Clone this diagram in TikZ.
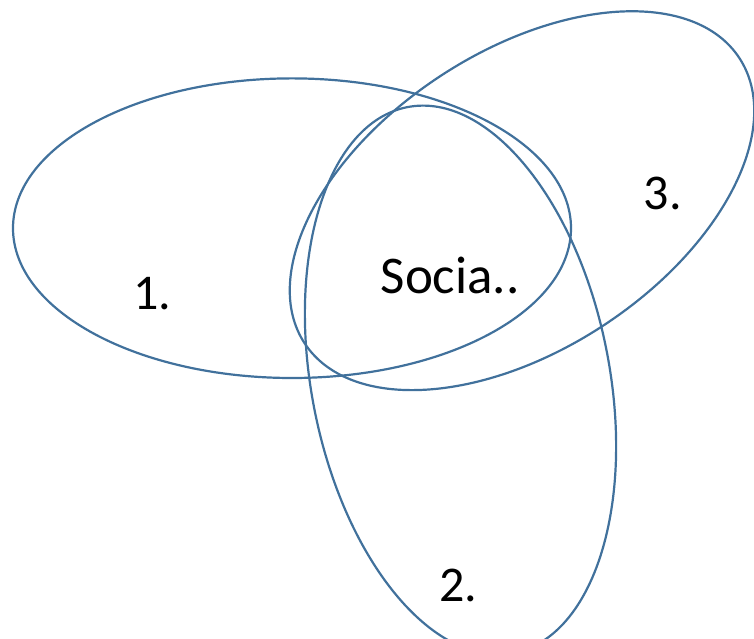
\documentclass[tikz,border=0pt]{standalone}
\usepackage{fontspec}
\setmainfont{Carlito}
\definecolor{ellblue}{RGB}{65,113,156}
\begin{document}
\begin{tikzpicture}[x=1pt,y=1pt,
  venn/.style={draw=ellblue,line width=2.2pt},
  lbl/.style={anchor=base west,inner sep=0pt,font=\fontsize{50}{54}\selectfont},
  biglbl/.style={anchor=base west,inner sep=0pt,font=\fontsize{53}{57}\selectfont}]
\useasboundingbox (0,0) rectangle (754,639);
\draw[venn] (292,410.8) ellipse [x radius=279, y radius=149.8];
\draw[venn,shift={(460.5,259)},rotate=11] (0,0) ellipse [x radius=149, y radius=278];
\draw[venn,shift={(522,438.3)},rotate=33.3] (0,0) ellipse [x radius=260, y radius=149];
\node[lbl] (one) at (133,329) {1.};
\node[biglbl] (soc) at (380.5,345) {Socia..};
\node[lbl] (three) at (643.5,429) {3.};
\node[lbl] (two) at (439,37) {2.};
\end{tikzpicture}
\end{document}
